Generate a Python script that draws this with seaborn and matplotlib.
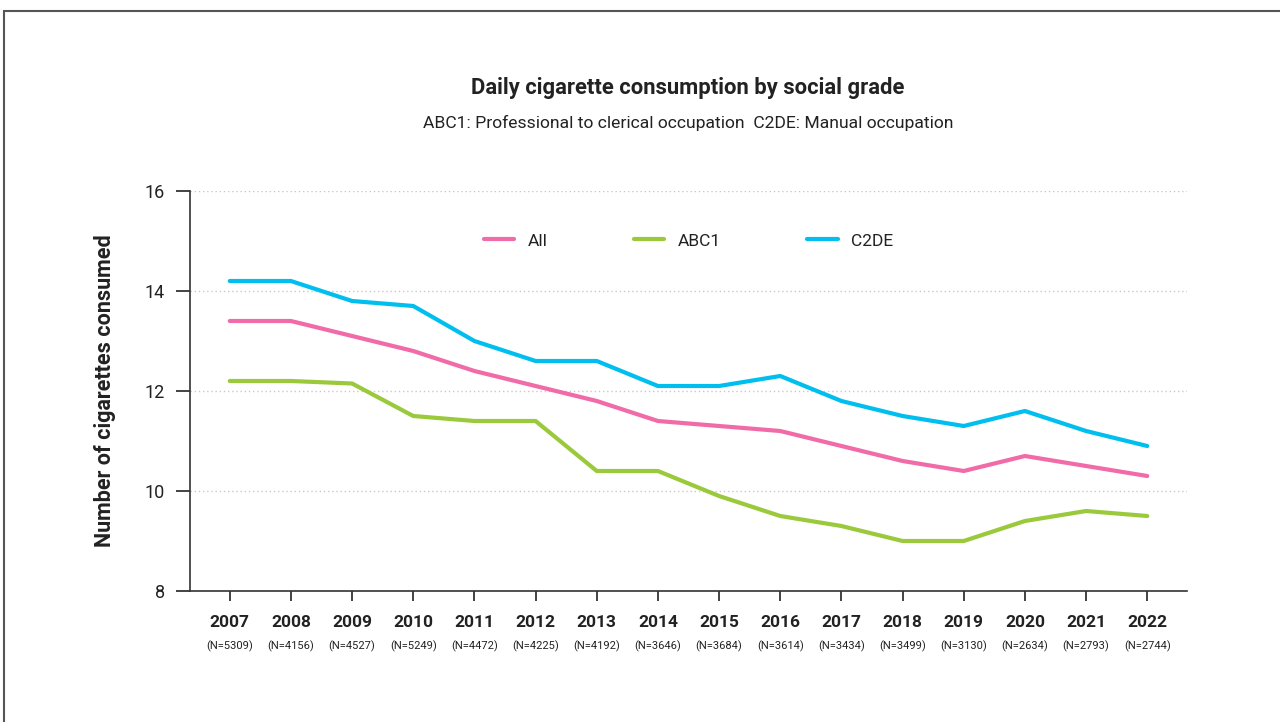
import matplotlib
matplotlib.use("Agg")
import matplotlib.pyplot as plt
import matplotlib.patches as mpatches
import seaborn as sns
import pandas as pd

# data
years = list(range(2007, 2023))
n_labels = ["5309", "4156", "4527", "5249", "4472", "4225", "4192", "3646",
            "3684", "3614", "3434", "3499", "3130", "2634", "2793", "2744"]
all_vals = [13.4, 13.4, 13.1, 12.8, 12.4, 12.1, 11.8, 11.4,
            11.3, 11.2, 10.9, 10.6, 10.4, 10.7, 10.5, 10.3]
abc1_vals = [12.2, 12.2, 12.15, 11.5, 11.4, 11.4, 10.4, 10.4,
             9.9, 9.5, 9.3, 9.0, 9.0, 9.4, 9.6, 9.5]
c2de_vals = [14.2, 14.2, 13.8, 13.7, 13.0, 12.6, 12.6, 12.1,
             12.1, 12.3, 11.8, 11.5, 11.3, 11.6, 11.2, 10.9]

series_names = ["All", "ABC1", "C2DE"]
colors = {"All": "#F06BA8", "ABC1": "#9BC93C", "C2DE": "#00BFEF"}

df = pd.DataFrame({"Year": years, "All": all_vals, "ABC1": abc1_vals, "C2DE": c2de_vals})
long_df = df.melt(id_vars="Year", var_name="Group", value_name="Value")

sns.set_style("white")
plt.rcParams["font.family"] = ["Roboto", "DejaVu Sans"]
text_color = "#222222"

fig = plt.figure(figsize=(12.8, 7.22), dpi=100)
ax = fig.add_axes([190 / 1280, 1 - 591 / 722, (1187 - 190) / 1280, 400 / 722])

# outer frame
fig.patches.append(mpatches.Rectangle((4 / 1280, -0.1), 1.2, 1 - 11 / 722 + 0.1,
                                      transform=fig.transFigure, fill=False,
                                      edgecolor="#555555", linewidth=1.5, zorder=0))

sns.lineplot(data=long_df, x="Year", y="Value", hue="Group", hue_order=series_names,
             palette=colors, linewidth=3, ax=ax, legend=False)

ax.set_xlim(2006.35, 2022.65)
ax.set_ylim(8, 16)
ax.set_yticks([8, 10, 12, 14, 16])
ax.set_xticks(years)
ax.set_xticklabels([str(y) for y in years], fontsize=12.5, fontweight="bold", color=text_color)
ax.tick_params(axis="y", labelsize=13, colors=text_color, length=10, width=1.2,
               direction="out", left=True, pad=8)
ax.tick_params(axis="x", length=7, width=1.2, direction="out", bottom=True,
               colors=text_color, pad=10)

for sp in ["top", "right"]:
    ax.spines[sp].set_visible(False)
for sp in ["left", "bottom"]:
    ax.spines[sp].set_color("#333333")
    ax.spines[sp].set_linewidth(1.2)

ax.yaxis.grid(True, linestyle=(0, (1, 2)), color="#c8c8c8", linewidth=1)
ax.xaxis.grid(False)

# sample sizes below years
for y, n in zip(years, n_labels):
    ax.annotate(f"(N={n})", xy=(y, 0), xycoords=("data", "axes fraction"),
                xytext=(0, -40), textcoords="offset points", ha="center", va="center",
                fontsize=8, color=text_color)

ax.set_xlabel("")
ax.set_ylabel("Number of cigarettes consumed", fontsize=15.5, fontweight="bold",
              color=text_color, labelpad=21)

# legend
handles = [plt.Line2D([0], [0], color=colors[s], linewidth=3) for s in series_names]
ax.legend(handles, series_names, loc="center", bbox_to_anchor=(0.5, 0.875), ncol=3,
          frameon=False, fontsize=12.5, handlelength=1.75, columnspacing=5.0,
          handletextpad=0.75, labelcolor=text_color)

fig.text(688 / 1280, 1 - 88 / 722, "Daily cigarette consumption by social grade",
         ha="center", va="center", fontsize=15.8, fontweight="bold", color=text_color)
fig.text(688 / 1280, 1 - 123 / 722,
         "ABC1: Professional to clerical occupation  C2DE: Manual occupation",
         ha="center", va="center", fontsize=12.6, color=text_color)

fig.savefig("out.png", dpi=100)
